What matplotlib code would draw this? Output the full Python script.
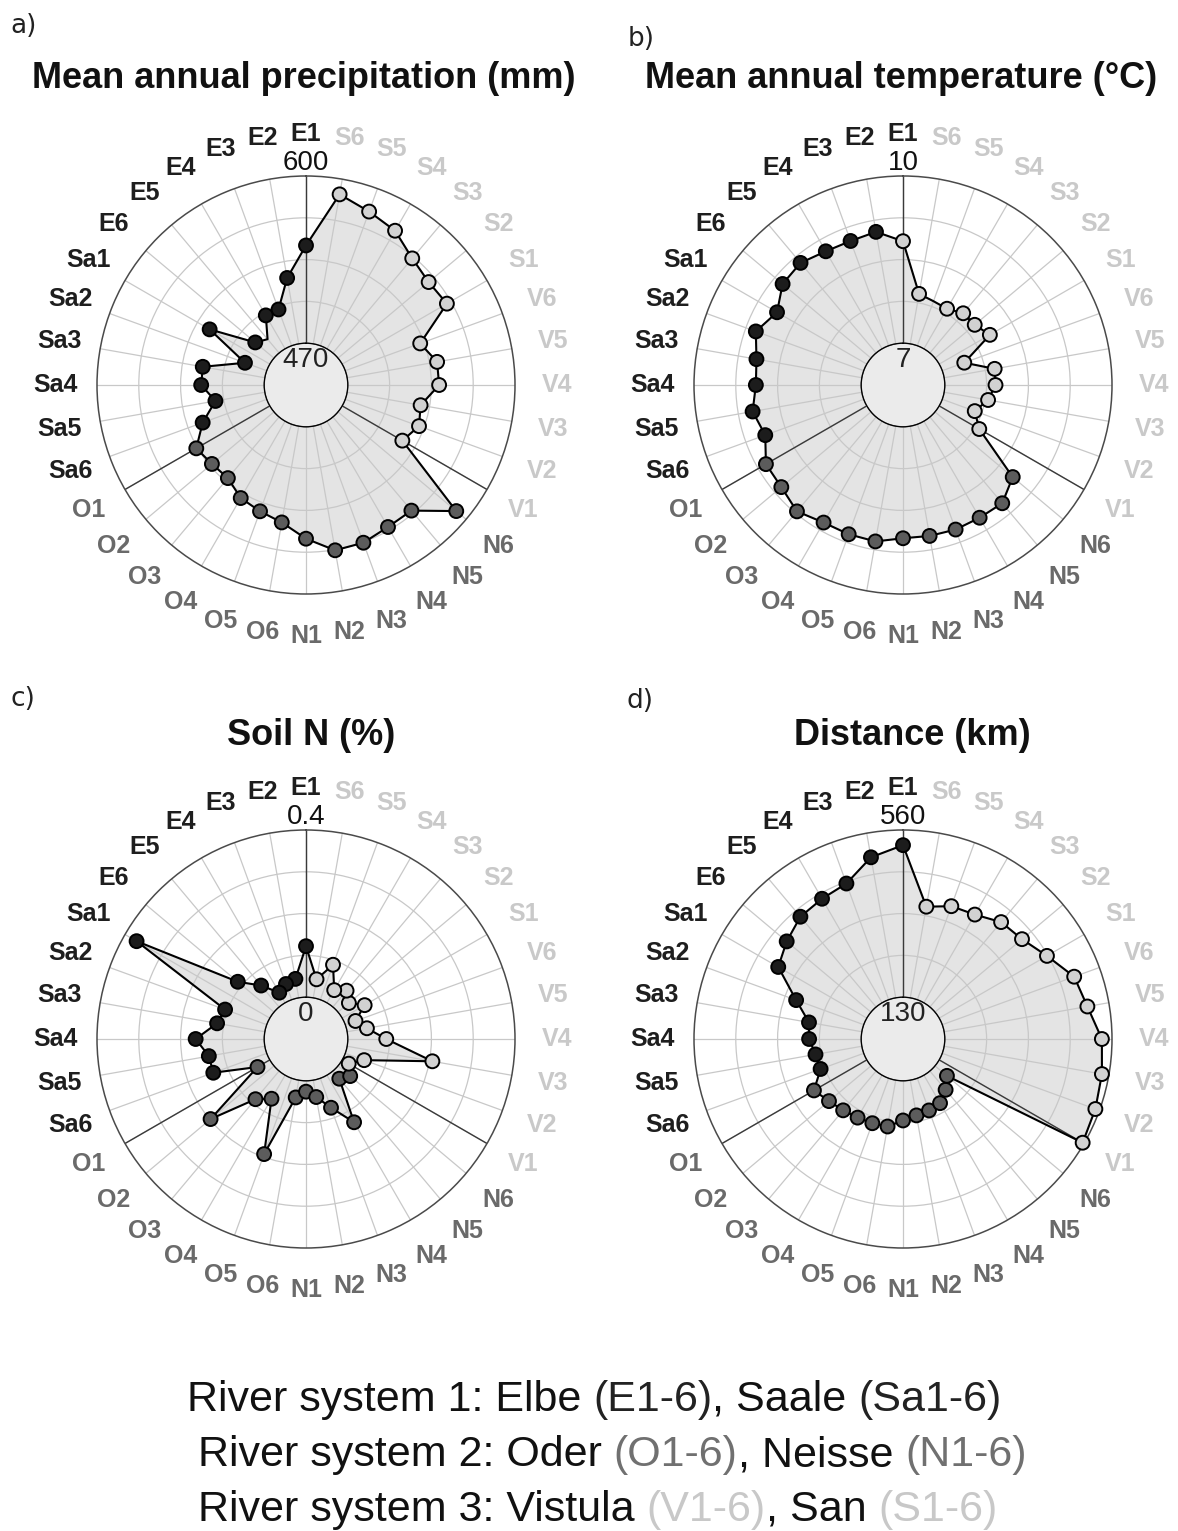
import numpy as np
import matplotlib
matplotlib.use("Agg")
import matplotlib.pyplot as plt
from matplotlib.patches import Circle
from matplotlib.font_manager import FontProperties

# ---- sampling sites, counter-clockwise from the top ----
categories = (["E1", "E2", "E3", "E4", "E5", "E6"]
              + ["Sa1", "Sa2", "Sa3", "Sa4", "Sa5", "Sa6"]
              + ["O1", "O2", "O3", "O4", "O5", "O6"]
              + ["N1", "N2", "N3", "N4", "N5", "N6"]
              + ["V1", "V2", "V3", "V4", "V5", "V6"]
              + ["S1", "S2", "S3", "S4", "S5", "S6"])

precipitation = [546, 522, 500, 500, 484, 489,
                 524, 488, 519, 519, 509, 523,
                 536, 533, 532, 539, 542, 546,
                 557, 568, 568, 565, 565, 590,
                 524, 531, 528, 541, 541, 532,
                 564, 562, 566, 576, 581, 588]

temperature = [8.83, 9.04, 9.00, 9.02, 9.11, 9.07,
               8.86, 9.06, 8.92, 8.89, 8.99, 8.88,
               9.09, 9.10, 9.21, 9.10, 9.10, 9.10,
               9.00, 9.00, 9.01, 9.00, 9.02, 8.82,
               7.83, 7.62, 7.80, 7.91, 7.92, 7.42,
               8.05, 7.93, 7.93, 7.83, 7.85, 7.91]

soil_n = [0.122, 0.046, 0.040, 0.028, 0.067, 0.113,
          0.368, 0.106, 0.116, 0.164, 0.136, 0.136,
          0.034, 0.198, 0.088, 0.065, 0.193, 0.042,
          0.026, 0.041, 0.075, 0.130, 0.024, 0.038,
          0.018, 0.048, 0.207, 0.092, 0.048, 0.026,
          0.062, 0.034, 0.051, 0.035, 0.089, 0.045]

distance = [521, 497, 448, 439, 433, 413,
            393, 315, 268, 264, 251, 248,
            287, 271, 262, 256, 253, 251,
            232, 222, 218, 213, 193, 170,
            556, 549, 542, 534, 504, 491,
            450, 422, 415, 392, 386, 368]

titles = ["Mean annual precipitation (mm)", "Mean annual temperature (\u00b0C)",
          "Soil N (%)", "Distance (km)"]
panel_letters = ["a)", "b)", "c)", "d)"]
axis_min = [470, 7, 0, 130]
axis_max = [600, 10, 0.4, 560]
axis_min_labels = ["470", "7", "0", "130"]
axis_max_labels = ["600", "10", "0.4", "560"]

# sites drawn as a plain vertex (no marker) in a panel
no_marker = [["E5"], ["S5"], [], []]
# marker colour overrides per panel
marker_override = [{}, {"E1": "light"}, {}, {}]

# ---- styling ----
FONT = "Liberation Sans"
shade = {"dark": "#1c1c1c", "mid": "#5c5c5c", "light": "#d2d2d2"}
label_shade = {"dark": "#1e1e1e", "mid": "#6a6a6a", "light": "#c9c9c9"}


def group_of(cat):
    if cat.startswith("E") or cat.startswith("Sa"):
        return "dark"
    if cat.startswith("O") or cat.startswith("N"):
        return "mid"
    return "light"


W, H = 1178, 1531
fig = plt.figure(figsize=(W / 100, H / 100), dpi=100)
fig.patch.set_facecolor("white")

R_PX = 209
centers = [(306, 385), (903, 385), (306, 1039), (903, 1039)]
series = [precipitation, temperature, soil_n, distance]

n = len(categories)
theta = np.deg2rad(np.arange(n) * 360.0 / n)

for k in range(4):
    cx, cy = centers[k]
    ax = fig.add_axes([(cx - R_PX) / W, 1 - (cy + R_PX) / H,
                       2 * R_PX / W, 2 * R_PX / H], projection="polar")
    lo, hi = axis_min[k], axis_max[k]
    span = hi - lo
    vals = np.asarray(series[k], dtype=float)

    ax.set_theta_zero_location("N")
    ax.set_theta_direction(1)
    ax.set_ylim(lo, hi)
    ax.set_rorigin(lo - span / 4.0)
    ax.set_xticks(theta)
    ax.set_xticklabels([])
    ax.set_yticks(lo + span * np.array([0.25, 0.5, 0.75]))
    ax.set_yticklabels([])
    ax.tick_params(length=0, pad=0)
    ax.grid(True, color="#c8c8c8", lw=0.9)
    ax.set_axisbelow("line")
    ax.spines["polar"].set_color("#4a4a4a")
    ax.spines["polar"].set_linewidth(1.1)
    for s in ("inner", "start", "end"):
        if s in ax.spines:
            ax.spines[s].set_visible(False)

    # closed profile
    th_c = np.append(theta, theta[0])
    r_c = np.append(vals, vals[0])
    ax.fill(th_c, r_c, color="#e4e4e4", lw=0, zorder=1)

    # river-system separators
    for idx in (0, 12, 24):
        ax.plot([theta[idx], theta[idx]], [lo, hi], color="#3a3a3a",
                lw=1.0, zorder=2)

    # centre disc
    ax.add_patch(Circle((0.5, 0.5), 0.1, transform=ax.transAxes,
                        facecolor="#ebebeb", edgecolor="#555555", lw=1.0,
                        zorder=2.5, clip_on=False))

    ax.plot(th_c, r_c, color="black", lw=1.5, zorder=3, clip_on=False)

    show = np.array([c not in no_marker[k] for c in categories])
    colors = [shade[marker_override[k].get(c, group_of(c))] for c in categories]
    colors = [col for col, s in zip(colors, show) if s]
    ax.scatter(theta[show], vals[show], s=100, c=colors, edgecolors="black",
               linewidths=1.4, zorder=4, clip_on=False)

    # range labels
    ax.text(0.5, 0.56, axis_min_labels[k], transform=ax.transAxes,
            ha="center", va="center", fontsize=20, family=FONT,
            color="#222222", zorder=5)
    ax.text(0.5, 1.031, axis_max_labels[k], transform=ax.transAxes,
            ha="center", va="center", fontsize=20, family=FONT,
            color="#111111", zorder=5)

    # site labels
    for i, cat in enumerate(categories):
        phi = np.pi / 2 + theta[i]
        ax.text(0.5 + 0.6 * np.cos(phi), 0.5 + 0.6 * np.sin(phi), cat,
                transform=ax.transAxes, ha="center", va="center",
                fontsize=18, fontweight="bold", family=FONT,
                color=label_shade[group_of(cat)], clip_on=False)

# titles and panel letters
title_pos = [(304, 88), (901, 88), (311, 745), (912, 745)]
letter_pos = [(10, 33), (628, 46), (10, 706), (626, 708)]
for k in range(4):
    tx, ty = title_pos[k]
    fig.text(tx / W, 1 - ty / H, titles[k], ha="center", va="baseline",
             fontsize=26, fontweight="bold", family=FONT, color="#111111")
    lx, ly = letter_pos[k]
    fig.text(lx / W, 1 - ly / H, panel_letters[k], ha="left", va="baseline",
             fontsize=19, family="DejaVu Sans", color="#222222")

# river-system key with coloured site codes
key_lines = [
    [("River system 1: Elbe ", "#111111"), ("(E1-6)", "#222222"),
     (", Saale ", "#111111"), ("(Sa1-6)", "#222222")],
    [("River system 2: Oder ", "#111111"), ("(O1-6)", "#707070"),
     (", Neisse ", "#111111"), ("(N1-6)", "#707070")],
    [("River system 3: Vistula ", "#111111"), ("(V1-6)", "#c8c8c8"),
     (", San ", "#111111"), ("(S1-6)", "#c8c8c8")],
]
key_pos = [(187, 1411), (198, 1466), (198, 1521)]
KEY_SIZE = 31

fig.canvas.draw()
renderer = fig.canvas.get_renderer()
kprop = FontProperties(family=FONT, size=KEY_SIZE)
bar_w = renderer.get_text_width_height_descent("|", kprop, ismath=False)[0]


def prefix_width(s):
    w = renderer.get_text_width_height_descent(s + "|", kprop, ismath=False)[0]
    return w - bar_w


for parts, (x0, y0) in zip(key_lines, key_pos):
    prefix = ""
    for seg, col in parts:
        xoff = prefix_width(prefix) if prefix else 0.0
        fig.text((x0 + xoff) / W, 1 - y0 / H, seg, ha="left", va="baseline",
                 fontsize=KEY_SIZE, family=FONT, color=col)
        prefix += seg

fig.savefig("out.png", dpi=100, facecolor="white")
